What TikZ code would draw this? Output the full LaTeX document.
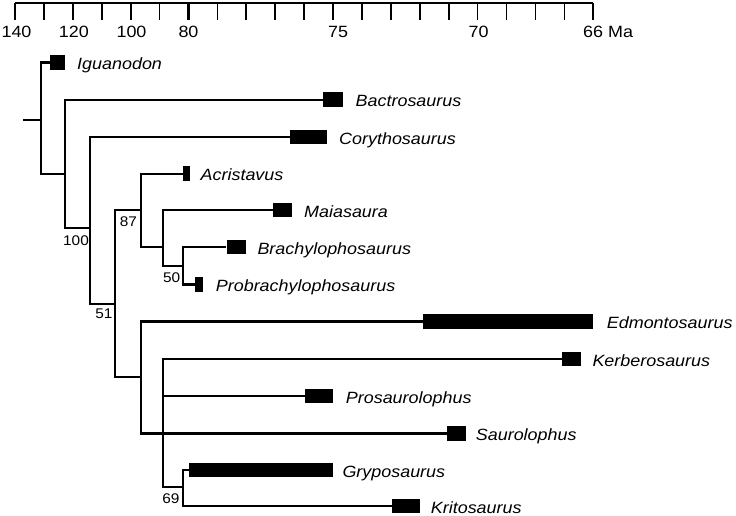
\documentclass[tikz,border=0pt]{standalone}
\usepackage{fontspec}
\setmainfont{Liberation Sans}[FakeStretch=1.1]
\begin{document}
\begin{tikzpicture}[x=1pt,y=-1pt,
  tree/.style={line width=2.2pt, line join=miter},
  axisline/.style={line width=2.4pt},
  tickline/.style={line width=1.7pt},
  bigtick/.style={line width=3.2pt},
  taxbox/.style={fill=black, draw=none, inner sep=0pt, minimum height=14.5pt},
  taxon/.style={anchor=base west, inner sep=0pt, font=\fontsize{16.3}{18}\selectfont\itshape},
  agelab/.style={anchor=base, inner sep=0pt, font=\fontsize{16.3}{18}\selectfont},
  support/.style={inner sep=0pt, font=\fontsize{14}{16}\selectfont}]
\useasboundingbox (0,0) rectangle (736,516);

% time axis
\draw[axisline] (15,3.3) -- (593.3,3.3);
\foreach \i in {0,...,20}{
  \ifnum\i=6
    \draw[bigtick] (15+\i*28.915,3) -- ++(0,17);
  \else
    \draw[tickline] (15+\i*28.915,3) -- ++(0,17);
  \fi
}
\node[agelab] (a140) at (16.5,37.7) {140};
\node[agelab] (a120) at (73.8,37.7) {120};
\node[agelab] (a100) at (131.5,37.7) {100};
\node[agelab] (a80) at (188.5,37.7) {80};
\node[agelab] (a75) at (338,37.7) {75};
\node[agelab] (a70) at (478.5,37.7) {70};
\node[agelab, anchor=base west] (a66) at (583,37.7) {66 Ma};

% range boxes
\node[taxbox, minimum width=15pt]    (bIg) at (57.5,62.5) {};
\node[taxbox, minimum width=19.7pt]  (bBa) at (332.9,99.7) {};
\node[taxbox, minimum width=37.3pt]  (bCo) at (308.7,136.9) {};
\node[taxbox, minimum width=6.7pt]   (bAc) at (186.7,173.7) {};
\node[taxbox, minimum width=19pt]    (bMa) at (282.8,210) {};
\node[taxbox, minimum width=19.3pt]  (bBr) at (236.3,247.2) {};
\node[taxbox, minimum width=8.3pt]   (bPr) at (199.2,284.5) {};
\node[taxbox, minimum width=170.6pt] (bEd) at (508,321.5) {};
\node[taxbox, minimum width=18.7pt]  (bKe) at (571.7,359.2) {};
\node[taxbox, minimum width=27.7pt]  (bPs) at (318.9,396.2) {};
\node[taxbox, minimum width=19pt]    (bSa) at (456.2,433.4) {};
\node[taxbox, minimum width=143.4pt] (bGr) at (261,470) {};
\node[taxbox, minimum width=27.7pt]  (bKr) at (406.2,506.2) {};

% taxon names
\node[taxon] (tIg) at (77,69.5) {Iguanodon};
\node[taxon] (tBa) at (355.5,106.5) {Bactrosaurus};
\node[taxon] (tCo) at (339,144) {Corythosaurus};
\node[taxon] (tAc) at (200.5,180.5) {Acristavus};
\node[taxon] (tMa) at (304,217) {Maiasaura};
\node[taxon] (tBr) at (257.3,254) {Brachylophosaurus};
\node[taxon] (tPr) at (215.7,291.5) {Probrachylophosaurus};
\node[taxon] (tEd) at (606.7,328.5) {Edmontosaurus};
\node[taxon] (tKe) at (592.3,366) {Kerberosaurus};
\node[taxon] (tPs) at (345.7,403) {Prosaurolophus};
\node[taxon] (tSa) at (475.7,440.3) {Saurolophus};
\node[taxon] (tGr) at (342.3,477) {Gryposaurus};
\node[taxon] (tKr) at (430.7,513) {Kritosaurus};

% tree coordinates
\coordinate (root) at (23,120);
\coordinate (j1) at (40.7,120);
\coordinate (c1b) at (40.7,174);
\coordinate (j2) at (65,174);
\coordinate (c2b) at (65,228.3);
\coordinate (j3) at (90,228.3);
\coordinate (c3b) at (90,304);
\coordinate (j4) at (115,304);
\coordinate (j5) at (141.2,210);
\coordinate (c4b) at (115,377);
\coordinate (j8) at (141.2,377);
\coordinate (c5b) at (141.2,247.3);
\coordinate (j6) at (162.7,247.3);
\coordinate (c6b) at (162.7,266);
\coordinate (j7) at (182.7,266);
\coordinate (c7b) at (182.7,284.5);
\coordinate (c8b) at (141.2,433.4);
\coordinate (c9m) at (162.7,396.2);
\coordinate (c9b) at (162.7,487.3);
\coordinate (j10) at (182.7,487.3);
\coordinate (c10b) at (182.7,506.2);

% tree
\draw[tree] (root) -- (j1);
\draw[tree] (bIg.west) -| (c1b) -- (j2);
\draw[tree] (bBa.west) -| (c2b) -- (j3);
\draw[tree] (bCo.west) -| (c3b) -- (j4);
\draw[tree] (j5) -| (c4b) -- (j8);
\draw[tree] (bAc.west) -| (c5b) -- (j6);
\draw[tree] (bMa.west) -| (c6b) -- (j7);
\draw[tree] (bBr.west) -| (c7b) -- (bPr.west);
\draw[tree] (bEd.west) -| (c8b) -- (bSa.west);
\draw[tree] (bKe.west) -| (c9b) -- (j10);
\draw[tree] (bPs.west) -- (c9m);
\draw[tree] (bGr.west) -| (c10b) -- (bKr.west);

% support values
\node[support] (s100) at (76,241) {100};
\node[support] (s51) at (104,314) {51};
\node[support] (s87) at (128.5,222) {87};
\node[support] (s50) at (171.7,278) {50};
\node[support] (s69) at (171,499) {69};
\end{tikzpicture}
\end{document}
